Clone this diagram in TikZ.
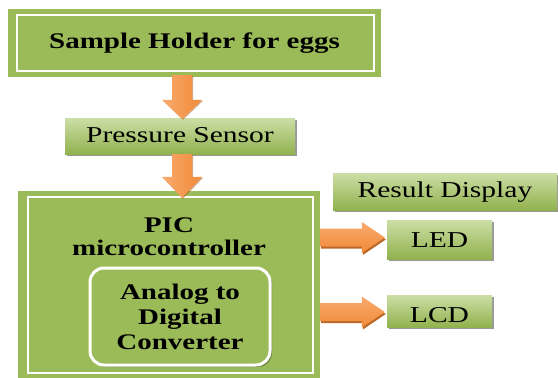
\documentclass[tikz,border=0pt]{standalone}
\usepackage{fontspec}
\setmainfont{Liberation Serif}[FakeStretch=1.3]
\usetikzlibrary{shadows,calc}
\definecolor{gmain}{HTML}{9BBB59}
\definecolor{glight}{HTML}{CCDEA6}
\definecolor{gdark}{HTML}{91B24E}
\definecolor{olight}{HTML}{F9AA6E}
\definecolor{omain}{HTML}{F08A38}
\definecolor{odark}{HTML}{B3560F}
\begin{document}
\begin{tikzpicture}[x=1pt,y=-1pt,
  plainbox/.style={rectangle, fill=gmain, inner sep=0pt,
    font=\fontsize{22.3}{24}\selectfont\bfseries},
  gradbox/.style={rectangle, top color=glight, bottom color=gdark, inner sep=0pt,
    drop shadow={shadow xshift=2pt, shadow yshift=-2pt, fill=black, opacity=0.4},
    font=\fontsize{22.7}{24}\selectfont},
  whiteline/.style={draw=white, line width=1.6pt},
  downarr/.style={left color=olight, right color=omain,
    drop shadow={shadow xshift=1pt, shadow yshift=-1pt, fill=odark, opacity=0.5}},
  rightarr/.style={top color=olight, bottom color=omain,
    drop shadow={shadow xshift=1pt, shadow yshift=-2pt, fill=odark, opacity=0.9}}
]
\useasboundingbox (0,0) rectangle (558,378);

% boxes
\node[plainbox, minimum width=373pt, minimum height=68pt, text height=10pt, text depth=0pt]
  (holder) at (194.5,43) {Sample Holder for eggs};
\draw[whiteline] ($(holder.south west)+(9,-6)$) rectangle ($(holder.north east)+(-7,6)$);

\node[gradbox, minimum width=230pt, minimum height=36pt, text height=12pt, text depth=0pt]
  (ps) at (180,136) {Pressure Sensor};

\node[plainbox, minimum width=302pt, minimum height=187pt] (pic) at (169,284.5) {};
\draw[whiteline] ($(pic.north west)+(10,6)$) rectangle ($(pic.south east)+(-7,-5)$);
\node[inner sep=0pt, align=center, font=\fontsize{22.3}{23}\selectfont\bfseries]
  (pictxt) at (169,236.5) {PIC\\microcontroller};

\node[rectangle, rounded corners=14pt, fill=gmain, draw=white, line width=3pt,
  minimum width=180pt, minimum height=97pt, inner sep=0pt, align=center,
  drop shadow={shadow xshift=2pt, shadow yshift=-2pt, fill=black, opacity=0.3},
  font=\fontsize{22.3}{25}\selectfont\bfseries]
  (adc) at (180,316.5) {Analog to\\Digital\\Converter};

\node[gradbox, minimum width=224pt, minimum height=37pt, text height=11pt, text depth=0pt]
  (res) at (445,191.5) {Result Display};
\node[gradbox, minimum width=105pt, minimum height=39pt, text height=15pt, text depth=0pt]
  (led) at (439.5,239.5) {LED};
\node[gradbox, minimum width=105pt, minimum height=32pt, text height=22pt, text depth=0pt]
  (lcd) at (439.5,311) {LCD};

% down arrows
\coordinate (ax) at (182,0);
\coordinate (a1s) at ($(ax |- holder.south)+(0,-2)$);
\coordinate (a1t) at ($(ax |- ps.north)+(0,1)$);
\path[downarr] ($(a1s)+(-10,0)$) -- ($(a1t)+(-10,-19)$) -- ($(a1t)+(-20,-19)$) -- (a1t)
  -- ($(a1t)+(20,-19)$) -- ($(a1t)+(10,-19)$) -- ($(a1s)+(10,0)$) -- cycle;

\coordinate (a2s) at ($(ax |- ps.south)+(0,0)$);
\coordinate (a2t) at ($(ax |- pic.north)+(0,7)$);
\path[downarr] ($(a2s)+(-10,0)$) -- ($(a2t)+(-10,-21)$) -- ($(a2t)+(-20,-21)$) -- (a2t)
  -- ($(a2t)+(20,-21)$) -- ($(a2t)+(10,-21)$) -- ($(a2s)+(10,0)$) -- cycle;

% right arrows
\coordinate (a3t) at ($(led.west)+(-2,-2)$);
\coordinate (a3s) at (pic.east |- a3t);
\path[rightarr] ($(a3s)+(0,-9)$) -- ($(a3t)+(-23,-9)$) -- ($(a3t)+(-23,-15.5)$) -- (a3t)
  -- ($(a3t)+(-23,15.5)$) -- ($(a3t)+(-23,9)$) -- ($(a3s)+(0,9)$) -- cycle;

\coordinate (a4t) at ($(lcd.west)+(-2,1)$);
\coordinate (a4s) at (pic.east |- a4t);
\path[rightarr] ($(a4s)+(0,-9)$) -- ($(a4t)+(-23,-9)$) -- ($(a4t)+(-23,-15.5)$) -- (a4t)
  -- ($(a4t)+(-23,15.5)$) -- ($(a4t)+(-23,9)$) -- ($(a4s)+(0,9)$) -- cycle;
\end{tikzpicture}
\end{document}
